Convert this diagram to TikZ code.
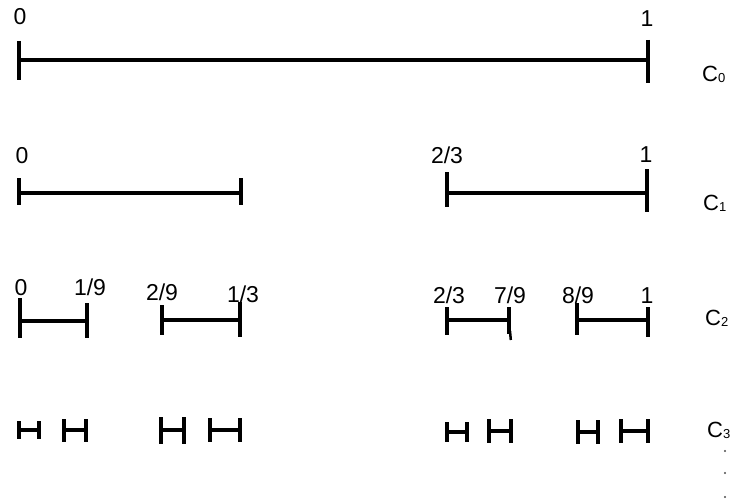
\documentclass[tikz,border=0pt]{standalone}
\usepackage{fontspec}
\setmainfont{Liberation Sans}
\begin{document}
\begin{tikzpicture}[x=1pt,y=-1pt,
  seg/.style={line width=4.5pt,line cap=butt,black},
  num/.style={anchor=base,inner sep=0pt,font=\fontsize{23}{25}\selectfont},
  clab/.style={anchor=base west,inner sep=0pt,font=\fontsize{22}{24}\selectfont},
  dotm/.style={fill=black!70}]
\useasboundingbox (0,0) rectangle (733,500);
% C0
\draw[seg] (19,41) -- (19,80) (19,60) -- (648,60) (648,40) -- (648,83);
\node[num] (c0a) at (20,25) {0};
\node[num] (c0b) at (647,27) {1};
\node[clab] (c0) at (702,82) {C\raisebox{-1pt}{\fontsize{13}{13}\selectfont 0}};
% C1
\draw[seg] (19,178) -- (19,205) (19,193) -- (241,193) (241,178) -- (241,205);
\draw[seg] (447,172) -- (447,207) (447,193) -- (647,193) (647,169) -- (647,212);
\node[num] (c1a) at (22,163) {0};
\node[num] (c1b) at (447,163) {2/3};
\node[num] (c1c) at (646,162) {1};
\node[clab] (c1) at (703,210) {C\raisebox{-1pt}{\fontsize{13}{13}\selectfont 1}};
% C2
\draw[seg] (20,298) -- (20,338) (20,321) -- (87,321) (87,303) -- (87,338);
\draw[seg] (162,305) -- (162,335) (162,320) -- (240,320) (240,302) -- (240,337);
\draw[seg] (447,307) -- (447,335) (447,320) -- (509,320) (509,307) -- (509,334);
\draw[line width=2.5pt] (510,331) -- (510.8,340);
\draw[seg] (577,303) -- (577,335) (577,320) -- (648,320) (648,307) -- (648,337);
\node[num] (c2a) at (21,295) {0};
\node[num] (c2b) at (90,295) {1/9};
\node[num] (c2c) at (162,300) {2/9};
\node[num] (c2d) at (243,302) {1/3};
\node[num] (c2e) at (449,303) {2/3};
\node[num] (c2f) at (510,303) {7/9};
\node[num] (c2g) at (578,303) {8/9};
\node[num] (c2h) at (647,303) {1};
\node[clab] (c2) at (705,325) {C\raisebox{-1pt}{\fontsize{13}{13}\selectfont 2}};
% C3
\draw[seg] (19,421) -- (19,439) (19,430) -- (39,430) (39,421) -- (39,439);
\draw[seg] (64,419) -- (64,442) (64,430) -- (86,430) (86,419) -- (86,442);
\draw[seg] (161,417) -- (161,444) (161,430) -- (184,430) (184,417) -- (184,444);
\draw[seg] (210,418) -- (210,442) (210,430) -- (240,430) (240,418) -- (240,442);
\draw[seg] (447,422) -- (447,442) (447,432) -- (467,432) (467,422) -- (467,442);
\draw[seg] (489,419) -- (489,443) (489,431) -- (511,431) (511,419) -- (511,443);
\draw[seg] (578,420) -- (578,444) (578,432) -- (598,432) (598,420) -- (598,444);
\draw[seg] (621,419) -- (621,443) (621,431) -- (648,431) (648,419) -- (648,443);
\node[clab] (c3) at (707,437) {C\raisebox{-1pt}{\fontsize{13}{13}\selectfont 3}};
% dots
\fill[dotm] (725,451) circle (1.2);
\fill[dotm] (725,473) circle (1.2);
\fill[dotm] (725,497) circle (1.2);
\end{tikzpicture}
\end{document}
